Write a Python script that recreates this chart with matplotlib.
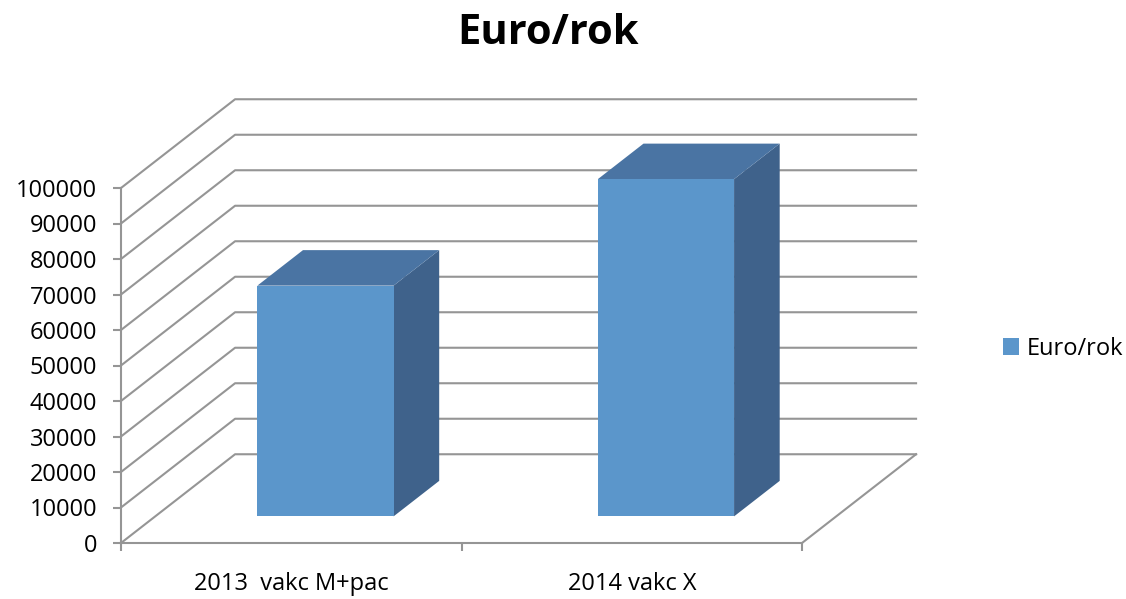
import matplotlib
matplotlib.use('Agg')
import matplotlib.pyplot as plt
from matplotlib.patches import Polygon, Patch

categories = ['2013  vakc M+pac', '2014 vakc X']
values = [65000, 95000]
series_name = 'Euro/rok'
yticks = list(range(0, 100001, 10000))

plt.rcParams['font.family'] = ['Open Sans', 'DejaVu Sans']

W, H = 1126, 599
fig = plt.figure(figsize=(W / 100, H / 100), dpi=100)
ax = fig.add_axes([121 / W, 1 - 543 / H, 681 / W, 355 / H])
n = len(categories)
ax.set_xlim(0, n)
ax.set_ylim(0, yticks[-1])

grid_c = '#959595'
depth_x, depth_y = 0.335, 25000  # oblique offset of the back wall

# side wall diagonals + back wall gridlines
for t in yticks:
    ax.plot([0, depth_x, n + depth_x], [t, t + depth_y, t + depth_y],
            color=grid_c, lw=1.5, clip_on=False, zorder=1)
# right edge of the floor
ax.plot([n, n + depth_x], [0, depth_y], color=grid_c, lw=1.5,
        clip_on=False, zorder=1)

front_c, top_c, side_c = '#5B96CB', '#4A74A3', '#3F628B'
bw = 0.4   # bar width
z0 = 0.3   # bar front position in depth
zd = 0.4   # bar depth
for i, v in enumerate(values):
    x0 = i + 0.5 - bw / 2 + z0 * depth_x
    y0 = z0 * depth_y
    x1 = x0 + bw
    y1 = y0 + v
    ox, oy = zd * depth_x, zd * depth_y
    ax.add_patch(Polygon([(x1, y0), (x1 + ox, y0 + oy), (x1 + ox, y1 + oy), (x1, y1)],
                         fc=side_c, ec='none', clip_on=False, zorder=2))
    ax.add_patch(Polygon([(x0, y1), (x1, y1), (x1 + ox, y1 + oy), (x0 + ox, y1 + oy)],
                         fc=top_c, ec='none', clip_on=False, zorder=2))
    ax.add_patch(Polygon([(x0, y0), (x1, y0), (x1, y1), (x0, y1)],
                         fc=front_c, ec='none', clip_on=False, zorder=3))

for s in ['top', 'right']:
    ax.spines[s].set_visible(False)
for s in ['left', 'bottom']:
    ax.spines[s].set_color(grid_c)
    ax.spines[s].set_linewidth(1.5)

ax.set_yticks(yticks)
ax.set_yticklabels([str(t) for t in yticks])
ax.tick_params(axis='y', length=6, width=1.5, color=grid_c, pad=11, labelsize=17)

ax.set_xticks(range(n + 1))
ax.set_xticklabels([])
ax.set_xticks([i + 0.5 for i in range(n)], minor=True)
ax.set_xticklabels(categories, minor=True)
ax.tick_params(axis='x', which='major', length=6, width=1.5, color=grid_c)
ax.tick_params(axis='x', which='minor', length=0, pad=21, labelsize=17)

fig.legend(handles=[Patch(fc=front_c, label=series_name)], loc='center left',
           bbox_to_anchor=(991 / W, 1 - 349 / H), frameon=False, fontsize=17,
           handlelength=0.7, handleheight=0.7, handletextpad=0.3, borderpad=0)

fig.text(548 / W, 1 - 33 / H, 'Euro/rok', ha='center', va='center',
         fontsize=30, fontweight='bold')

fig.savefig('out.png', dpi=100)
